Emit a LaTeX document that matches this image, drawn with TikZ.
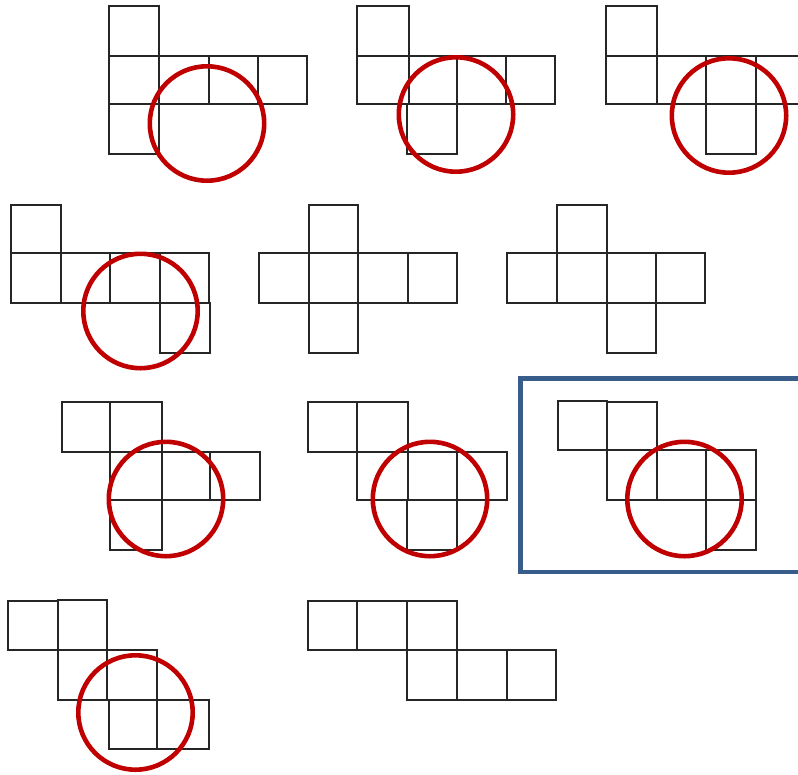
\documentclass[tikz,border=0pt]{standalone}
\usepackage{xcolor}
\definecolor{markred}{HTML}{C00000}
\definecolor{pickblue}{HTML}{385D8A}

\begin{document}
\begin{tikzpicture}[x=1pt, y=-1pt,
    face/.style={draw=black!85, line width=1.2pt},
    ring/.style={draw=markred, line width=4.6pt},
    pickbox/.style={draw=pickblue, line width=4.4pt}]
    \useasboundingbox (0,0) rectangle (798,774);
    \clip (0,0) rectangle (798,774);
    % Row 1, net 1
    \foreach \xa/\ya/\xb/\yb in {109/6/159/56, 109/56/159/104, 159/56/209/104, 209/56/258/104,
        258/56/307/104, 109/104/159/154}
      \draw[face] (\xa,\ya) rectangle (\xb,\yb);
    \draw[ring] (207,123.5) circle[radius=57.2];
    % Row 1, net 2
    \foreach \xa/\ya/\xb/\yb in {357/6/409/56, 357/56/409/104, 409/56/457/104, 457/56/506/104,
        506/56/555/104, 407/104/457/154}
      \draw[face] (\xa,\ya) rectangle (\xb,\yb);
    \draw[ring] (456,114.5) circle[radius=57.2];
    % Row 1, net 3
    \foreach \xa/\ya/\xb/\yb in {606/6/657/56, 606/56/657/104, 657/56/706/104, 706/56/756/104,
        756/56/806/104, 706/104/756/154}
      \draw[face] (\xa,\ya) rectangle (\xb,\yb);
    \draw[ring] (729,115.5) circle[radius=57.2];
    % Row 2, net 1
    \foreach \xa/\ya/\xb/\yb in {11/205/61/253, 11/253/61/303, 61/253/110/303, 110/253/160/303,
        160/253/209/303, 160/303/210/353}
      \draw[face] (\xa,\ya) rectangle (\xb,\yb);
    \draw[ring] (140.5,311) circle[radius=57.2];
    % Row 2, net 2
    \foreach \xa/\ya/\xb/\yb in {309/205/358/253, 259/253/309/303, 309/253/358/303, 358/253/408/303,
        408/253/457/303, 309/303/358/353}
      \draw[face] (\xa,\ya) rectangle (\xb,\yb);
    % Row 2, net 3
    \foreach \xa/\ya/\xb/\yb in {557/205/607/253, 507/253/557/303, 557/253/607/303, 607/253/656/303,
        656/253/705/303, 607/303/656/353}
      \draw[face] (\xa,\ya) rectangle (\xb,\yb);
    % Row 3, net 1
    \foreach \xa/\ya/\xb/\yb in {62/402/110/452, 110/402/162/452, 110/452/162/500, 162/452/210/500,
        210/452/260/500, 110/500/162/550}
      \draw[face] (\xa,\ya) rectangle (\xb,\yb);
    \draw[ring] (166,499) circle[radius=57.2];
    % Row 3, net 2
    \foreach \xa/\ya/\xb/\yb in {308/402/357/452, 357/402/408/452, 357/452/408/500, 408/452/457/500,
        457/452/507/500, 407/500/457/550}
      \draw[face] (\xa,\ya) rectangle (\xb,\yb);
    \draw[ring] (430,499) circle[radius=57.2];
    % Row 3, net 3 (chosen)
    \foreach \xa/\ya/\xb/\yb in {558/401/607/450, 607/402/657/450, 607/450/657/500, 657/450/706/500,
        706/450/756/500, 706/500/756/550}
      \draw[face] (\xa,\ya) rectangle (\xb,\yb);
    \draw[ring] (684.5,499) circle[radius=57.2];
    \draw[pickbox] (520.5,378.5) rectangle (812,572);
    % Row 4, net 1
    \foreach \xa/\ya/\xb/\yb in {8/601/58/650, 58/600/107/650, 58/650/107/700, 107/650/157/700,
        109/700/157/749, 157/700/209/749}
      \draw[face] (\xa,\ya) rectangle (\xb,\yb);
    \draw[ring] (135.5,712.5) circle[radius=57.2];
    % Row 4, net 2
    \foreach \xa/\ya/\xb/\yb in {308/601/357/650, 357/601/407/650, 407/601/457/650, 407/650/457/700,
        457/650/507/700, 507/650/556/700}
      \draw[face] (\xa,\ya) rectangle (\xb,\yb);
  \end{tikzpicture}
\end{document}
